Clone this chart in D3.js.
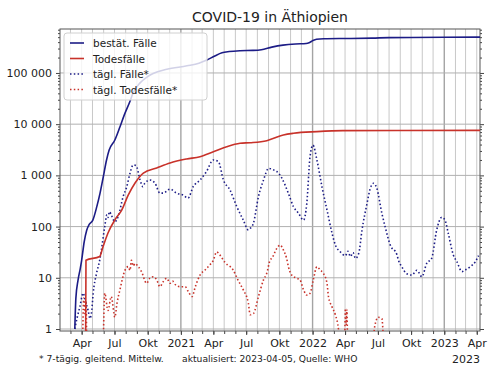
<!DOCTYPE html>
<html>
<head>
    <title>COVID-19 in Äthiopien</title>
    <script src="https://cdnjs.cloudflare.com/ajax/libs/d3/7.8.5/d3.min.js"></script>
    <style>
        body {
            margin: 0;
            background: white;
            font-family: "DejaVu Sans", sans-serif;
        }
        svg text {
            fill: #222;
        }
    </style>
</head>
<body>
    <div id="chart"></div>

    <script>
        // Data
        const casesCum = [
            ["2020-03-13", 1], ["2020-03-16", 4], ["2020-03-22", 9], ["2020-03-28", 15],
            ["2020-04-01", 22], ["2020-04-08", 50], ["2020-04-15", 85], ["2020-04-22", 110],
            ["2020-05-02", 134], ["2020-05-13", 245], ["2020-05-22", 450], ["2020-05-31", 940],
            ["2020-06-09", 2000], ["2020-06-16", 3100], ["2020-07-02", 4900], ["2020-07-16", 8800],
            ["2020-07-28", 15000], ["2020-08-13", 28000], ["2020-08-21", 40000], ["2020-09-10", 64000],
            ["2020-10-01", 85000], ["2020-10-16", 98000], ["2020-11-23", 118000], ["2021-01-18", 138000],
            ["2021-02-20", 155000], ["2021-03-14", 179000], ["2021-04-05", 215000], ["2021-04-25", 248000],
            ["2021-05-15", 262000], ["2021-06-14", 272000], ["2021-07-20", 276000], ["2021-08-12", 285000],
            ["2021-09-10", 320000], ["2021-10-11", 350000], ["2021-11-15", 368000], ["2021-12-14", 375000],
            ["2021-12-24", 395000], ["2022-01-02", 430000], ["2022-01-12", 455000], ["2022-02-01", 466000],
            ["2022-04-14", 472000], ["2022-06-15", 480000], ["2022-08-01", 490000], ["2022-10-01", 494000],
            ["2023-01-01", 498000], ["2023-04-10", 500000]
        ];

        const deathsCum = [
            ["2020-04-12", 0.5], ["2020-04-13", 22], ["2020-05-21", 26], ["2020-05-30", 40],
            ["2020-06-13", 75], ["2020-07-02", 135], ["2020-07-21", 210], ["2020-08-08", 410],
            ["2020-08-27", 710], ["2020-09-19", 1110], ["2020-10-26", 1400], ["2020-12-02", 1750],
            ["2021-01-17", 2090], ["2021-02-23", 2320], ["2021-04-01", 2900], ["2021-05-08", 3630],
            ["2021-06-14", 4230], ["2021-07-12", 4350], ["2021-08-27", 4760], ["2021-10-12", 6150],
            ["2021-11-09", 6640], ["2022-01-13", 7150], ["2022-03-26", 7470], ["2023-04-10", 7570]
        ];

        const casesDaily = [
            ["2020-03-13", 1], ["2020-03-19", 1.6], ["2020-03-27", 2.7], ["2020-04-05", 5],
            ["2020-04-13", 3.2], ["2020-04-19", 2.3], ["2020-04-24", 1.6], ["2020-04-29", 2.3],
            ["2020-05-03", 5], ["2020-05-12", 12], ["2020-05-21", 22], ["2020-05-26", 36],
            ["2020-06-04", 100], ["2020-06-10", 170], ["2020-06-13", 150], ["2020-06-17", 195],
            ["2020-06-22", 170], ["2020-07-02", 124], ["2020-07-11", 156], ["2020-07-25", 385],
            ["2020-08-04", 600], ["2020-08-13", 1100], ["2020-08-22", 1600], ["2020-08-30", 1550],
            ["2020-09-10", 810], ["2020-09-18", 600], ["2020-09-23", 700], ["2020-10-07", 810],
            ["2020-10-21", 710], ["2020-11-04", 450], ["2020-11-13", 450], ["2020-12-02", 540],
            ["2020-12-20", 450], ["2021-01-08", 410], ["2021-01-21", 360], ["2021-02-04", 600],
            ["2021-02-23", 810], ["2021-03-13", 1190], ["2021-04-01", 2000], ["2021-04-15", 1850],
            ["2021-04-29", 810], ["2021-05-17", 520], ["2021-06-05", 245], ["2021-06-23", 134],
            ["2021-07-07", 86], ["2021-07-12", 92], ["2021-07-21", 116], ["2021-08-04", 385],
            ["2021-08-18", 810], ["2021-09-01", 1370], ["2021-09-15", 1280], ["2021-09-24", 1190],
            ["2021-10-08", 880], ["2021-10-26", 445], ["2021-11-09", 245], ["2021-11-23", 182],
            ["2021-12-07", 134], ["2021-12-16", 285], ["2021-12-25", 2330], ["2022-01-02", 3900],
            ["2022-01-13", 2000], ["2022-01-27", 600], ["2022-02-10", 210], ["2022-02-24", 74],
            ["2022-03-05", 44], ["2022-03-19", 32], ["2022-04-02", 27], ["2022-04-09", 33],
            ["2022-04-16", 26], ["2022-04-23", 31], ["2022-04-30", 24], ["2022-05-09", 30],
            ["2022-05-18", 86], ["2022-06-01", 285], ["2022-06-10", 560], ["2022-06-19", 700],
            ["2022-06-28", 560], ["2022-07-12", 182], ["2022-07-21", 100], ["2022-08-04", 44],
            ["2022-08-23", 28], ["2022-08-27", 22], ["2022-09-05", 16.5], ["2022-09-19", 12],
            ["2022-10-03", 11.3], ["2022-10-17", 14], ["2022-10-31", 10.5], ["2022-11-13", 19],
            ["2022-11-27", 24], ["2022-12-11", 86], ["2022-12-25", 152], ["2023-01-03", 134],
            ["2023-01-12", 74], ["2023-01-26", 28], ["2023-02-05", 20.6], ["2023-02-19", 13.2],
            ["2023-02-28", 14.2], ["2023-03-14", 16.5], ["2023-03-28", 20.6], ["2023-04-06", 27]
        ];

        const deathsDaily = [
            ["2020-04-03", 0.3], ["2020-04-07", 4], ["2020-04-10", 2], ["2020-04-13", 3.5],
            ["2020-04-16", 0.3], ["2020-05-29", 0.3], ["2020-06-04", 5], ["2020-06-13", 2.3],
            ["2020-06-22", 4.3], ["2020-07-02", 1.7], ["2020-07-08", 3.2], ["2020-07-16", 5.8],
            ["2020-07-30", 14], ["2020-08-08", 16.5], ["2020-08-13", 14], ["2020-08-17", 22],
            ["2020-08-22", 17], ["2020-08-27", 19], ["2020-09-05", 16.5], ["2020-09-14", 13.2],
            ["2020-09-28", 7.8], ["2020-10-07", 9.8], ["2020-10-16", 10.5], ["2020-10-26", 9.1],
            ["2020-11-04", 6.7], ["2020-11-13", 8.4], ["2020-11-23", 9.8], ["2020-12-02", 7.8],
            ["2020-12-09", 8.6], ["2020-12-16", 7.4], ["2020-12-30", 6.7], ["2021-01-13", 6.7],
            ["2021-01-22", 5.3], ["2021-02-01", 4.3], ["2021-02-10", 6.7], ["2021-02-23", 11.3],
            ["2021-03-09", 14.2], ["2021-03-22", 17.8], ["2021-04-01", 22], ["2021-04-10", 32],
            ["2021-04-19", 28], ["2021-05-03", 20], ["2021-05-26", 14.2], ["2021-06-08", 9.1],
            ["2021-06-23", 5.8], ["2021-07-07", 3.2], ["2021-07-12", 1.9], ["2021-07-21", 2],
            ["2021-08-04", 4.3], ["2021-08-18", 9.1], ["2021-08-27", 12.2], ["2021-09-05", 22],
            ["2021-09-10", 24], ["2021-09-24", 37.6], ["2021-10-03", 43.6], ["2021-10-12", 35],
            ["2021-10-21", 24], ["2021-10-26", 16.5], ["2021-11-04", 11.3], ["2021-11-18", 9.8],
            ["2021-11-27", 9.1], ["2021-12-07", 5.8], ["2021-12-16", 4.6], ["2021-12-25", 5],
            ["2022-01-03", 9.1], ["2022-01-13", 16.5], ["2022-01-22", 14.2], ["2022-01-31", 12.2],
            ["2022-02-10", 7.8], ["2022-02-14", 4.3], ["2022-02-24", 2.7], ["2022-03-05", 1.9],
            ["2022-03-14", 0.96], ["2022-03-20", 0.3], ["2022-03-30", 0.3], ["2022-04-02", 2.5],
            ["2022-04-04", 1.2], ["2022-04-06", 2.4], ["2022-04-09", 0.3], ["2022-06-15", 0.3],
            ["2022-06-22", 1.1], ["2022-07-02", 1.7], ["2022-07-12", 1.6], ["2022-07-20", 0.3],
            ["2023-04-10", 0.3]
        ];

        const yTickValues = [1, 10, 100, 1000, 10000, 100000];
        const yTickLabels = ["1", "10", "100", "1 000", "10 000", "100 000"];

        const xTickDates = ["2020-04-01", "2020-07-01", "2020-10-01", "2021-01-01", "2021-04-01",
            "2021-07-01", "2021-10-01", "2022-01-01", "2022-04-01", "2022-07-01", "2022-10-01",
            "2023-01-01", "2023-04-01"];
        const xTickLabels = ["Apr", "Jul", "Okt", "2021", "Apr", "Jul", "Okt", "2022",
            "Apr", "Jul", "Okt", "2023", "Apr"];

        const seriesNames = ["bestät. Fälle", "Todesfälle", "tägl. Fälle*", "tägl. Todesfälle*"];

        // Setup
        const W = 500, H = 375;
        const margin = { top: 29, right: 20, bottom: 44, left: 60 };
        const colors = { cases: "#1c1c86", deaths: "#c8322a" };

        const svg = d3.select("#chart").append("svg")
            .attr("width", W)
            .attr("height", H)
            .style("font-family", "'DejaVu Sans', sans-serif");

        const parse = d3.utcParse("%Y-%m-%d");

        const x = d3.scaleUtc()
            .domain([parse("2020-02-01"), parse("2023-04-10")])
            .range([margin.left, W - margin.right]);

        const y = d3.scaleLog()
            .domain([0.914, 722000])
            .range([H - margin.bottom, margin.top]);

        svg.append("defs").append("clipPath").attr("id", "plot-clip")
            .append("rect")
            .attr("x", margin.left).attr("y", margin.top)
            .attr("width", W - margin.left - margin.right)
            .attr("height", H - margin.top - margin.bottom);

        // Grid: monthly verticals, darker on year boundaries
        const months = d3.utcMonth.range(parse("2020-03-01"), parse("2023-04-10"));
        svg.append("g").selectAll("line")
            .data(months)
            .join("line")
            .attr("x1", d => x(d)).attr("x2", d => x(d))
            .attr("y1", margin.top).attr("y2", H - margin.bottom)
            .attr("stroke", d => d.getUTCMonth() === 0 ? "#a4a4a4" : "#c8c8c8")
            .attr("stroke-width", d => d.getUTCMonth() === 0 ? 1.4 : 1);

        svg.append("g").selectAll("line")
            .data(yTickValues)
            .join("line")
            .attr("x1", margin.left).attr("x2", W - margin.right)
            .attr("y1", d => y(d)).attr("y2", d => y(d))
            .attr("stroke", "#b0b0b0")
            .attr("stroke-width", 1);

        // Axes
        const minorY = [];
        for (let e = 0; e <= 5; e++) {
            for (let k = 2; k <= 9; k++) {
                const v = k * Math.pow(10, e);
                if (v < 722000) minorY.push(v);
            }
        }

        svg.append("g")
            .attr("transform", `translate(${margin.left},0)`)
            .call(d3.axisLeft(y)
                .tickValues(yTickValues)
                .tickFormat((d, i) => yTickLabels[i])
                .tickSize(4)
                .tickPadding(4));

        svg.append("g")
            .attr("transform", `translate(${margin.left},0)`)
            .call(d3.axisLeft(y).tickValues(minorY).tickFormat("").tickSize(2));

        svg.append("g")
            .attr("transform", `translate(${W - margin.right},0)`)
            .call(d3.axisRight(y).tickValues(yTickValues).tickFormat("").tickSize(4));

        svg.append("g")
            .attr("transform", `translate(${W - margin.right},0)`)
            .call(d3.axisRight(y).tickValues(minorY).tickFormat("").tickSize(2));

        svg.append("g")
            .attr("transform", `translate(0,${H - margin.bottom})`)
            .call(d3.axisBottom(x)
                .tickValues(xTickDates.map(parse))
                .tickFormat((d, i) => xTickLabels[i])
                .tickSize(4)
                .tickPadding(4));

        svg.append("g")
            .attr("transform", `translate(0,${H - margin.bottom})`)
            .call(d3.axisBottom(x).tickValues(months).tickFormat("").tickSize(3));

        svg.selectAll(".domain").attr("stroke", "none");
        svg.selectAll(".tick line").attr("stroke", "#444");
        svg.selectAll(".tick text")
            .attr("font-size", 11)
            .attr("font-family", "'DejaVu Sans', sans-serif")
            .attr("fill", "#222");

        // Frame
        svg.append("rect")
            .attr("x", margin.left).attr("y", margin.top)
            .attr("width", W - margin.left - margin.right)
            .attr("height", H - margin.top - margin.bottom)
            .attr("fill", "none")
            .attr("stroke", "#555")
            .attr("stroke-width", 1);

        // Lines
        const line = d3.line()
            .x(d => x(parse(d[0])))
            .y(d => y(d[1]))
            .curve(d3.curveMonotoneX);

        const plot = svg.append("g").attr("clip-path", "url(#plot-clip)");

        const series = [
            { data: deathsDaily, color: colors.deaths, dash: "1.5,2.3" },
            { data: casesDaily, color: colors.cases, dash: "1.5,2.3" },
            { data: deathsCum, color: colors.deaths, dash: null },
            { data: casesCum, color: colors.cases, dash: null }
        ];

        series.forEach(s => {
            plot.append("path")
                .datum(s.data)
                .attr("d", line)
                .attr("fill", "none")
                .attr("stroke", s.color)
                .attr("stroke-width", 1.6)
                .attr("stroke-dasharray", s.dash);
        });

        // Legend
        const legend = svg.append("g").attr("transform", "translate(64,33)");
        legend.append("rect")
            .attr("width", 143).attr("height", 67)
            .attr("rx", 3)
            .attr("fill", "white").attr("fill-opacity", 0.8)
            .attr("stroke", "#d0d0d0");

        const legendStyles = [
            { color: colors.cases, dash: null },
            { color: colors.deaths, dash: null },
            { color: colors.cases, dash: "1.5,2.3" },
            { color: colors.deaths, dash: "1.5,2.3" }
        ];

        seriesNames.forEach((name, i) => {
            const ly = 10 + i * 15.5;
            legend.append("line")
                .attr("x1", 6).attr("x2", 20)
                .attr("y1", ly).attr("y2", ly)
                .attr("stroke", legendStyles[i].color)
                .attr("stroke-width", 1.6)
                .attr("stroke-dasharray", legendStyles[i].dash);
            legend.append("text")
                .attr("x", 29).attr("y", ly + 4)
                .attr("font-size", 10.5)
                .text(name);
        });

        // Title and notes
        svg.append("text")
            .attr("x", 270).attr("y", 22)
            .attr("text-anchor", "middle")
            .attr("font-size", 14)
            .text("COVID-19 in Äthiopien");

        svg.append("text")
            .attr("x", 39).attr("y", 362)
            .attr("font-size", 9.2)
            .text("* 7-tägig. gleitend. Mittelw.");

        svg.append("text")
            .attr("x", 182).attr("y", 362)
            .attr("font-size", 9.2)
            .text("aktualisiert: 2023-04-05, Quelle: WHO");

        svg.append("text")
            .attr("x", W - margin.right).attr("y", 363)
            .attr("text-anchor", "end")
            .attr("font-size", 11)
            .text("2023");
    </script>
</body>
</html>
